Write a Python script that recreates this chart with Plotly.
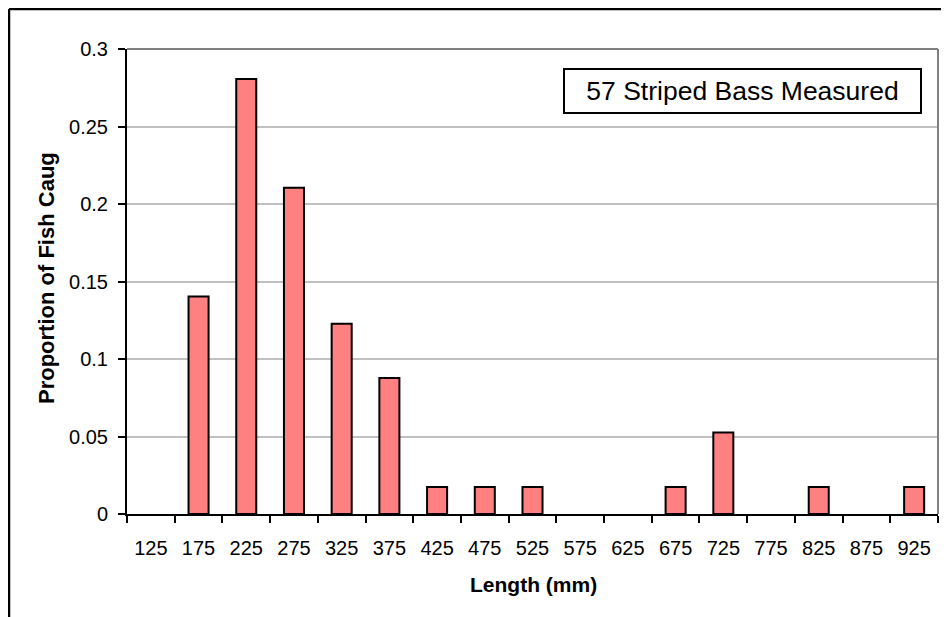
import plotly.graph_objects as go

categories = ["125", "175", "225", "275", "325", "375", "425", "475", "525",
              "575", "625", "675", "725", "775", "825", "875", "925"]
proportions = [0.0, 0.1404, 0.2807, 0.2105, 0.1228, 0.0877, 0.0175, 0.0175,
               0.0175, 0.0, 0.0, 0.0175, 0.0526, 0.0, 0.0175, 0.0, 0.0175]
y_ticks = [0, 0.05, 0.1, 0.15, 0.2, 0.25, 0.3]
y_tick_labels = ["0", "0.05", "0.1", "0.15", "0.2", "0.25", "0.3"]

OFF = 8  # page body margin
W, H = 949 - OFF, 617 - OFF
# plot area in page pixels
PL, PR, PT, PB = 127, 938, 49, 514
L, R, T, B = PL - OFF, PR - OFF, PT - OFF, PB - OFF

def px(x):
    return (x - PL) / (PR - PL)

def py(y):
    return (PB - y) / (PB - PT)

FONT = "Liberation Sans, Arial, sans-serif"

fig = go.Figure()
fig.add_trace(go.Bar(
    x=categories, y=proportions,
    marker=dict(color="#FF8080",
                line=dict(color="black", width=[2 if v > 0 else 0 for v in proportions])),
    hoverinfo="x+y",
))

fig.update_layout(
    width=W, height=H,
    margin=dict(l=L, r=W - R, t=T, b=H - B, pad=0),
    paper_bgcolor="white", plot_bgcolor="white",
    bargap=0.58,
    showlegend=False,
    font=dict(family=FONT, size=20, color="black"),
)

fig.update_xaxes(
    type="category",
    tickson="boundaries",
    ticks="outside", ticklen=7, tickwidth=2, tickcolor="black",
    showline=True, linecolor="black", linewidth=2,
    showgrid=False,
    tickfont=dict(size=20),
    ticklabelstandoff=15,
    range=[-0.5, 16.5],
)
fig.update_yaxes(
    range=[0, 0.3],
    tickvals=y_ticks, ticktext=y_tick_labels,
    ticks="outside", ticklen=7, tickwidth=2, tickcolor="black",
    showline=True, linecolor="black", linewidth=2,
    showgrid=True, gridcolor="#C0C0C0", gridwidth=2,
    tickfont=dict(size=20),
    ticklabelstandoff=6,
    zeroline=False,
)

# plot area top/right border (gray)
fig.add_shape(type="line", xref="paper", yref="paper", x0=0, x1=1, y0=1, y1=1,
              line=dict(color="#808080", width=2))
fig.add_shape(type="line", xref="paper", yref="paper", x0=1, x1=1, y0=0, y1=1,
              line=dict(color="#808080", width=2))

# outer chart border (left and top visible)
fig.add_shape(type="line", xref="paper", yref="paper",
              x0=px(9), x1=px(9), y0=py(9), y1=py(640),
              line=dict(color="black", width=2.5))
fig.add_shape(type="line", xref="paper", yref="paper",
              x0=px(9), x1=px(970), y0=py(9), y1=py(9),
              line=dict(color="black", width=2.5))

# axis titles
fig.add_annotation(text="<b>Length (mm)</b>", xref="paper", yref="paper",
                   x=px(533), y=py(584), xanchor="center", yanchor="middle",
                   showarrow=False, font=dict(size=21))
fig.add_annotation(text="<b>Proportion of Fish Caug</b>", xref="paper", yref="paper",
                   x=px(46), y=py(278), xanchor="center", yanchor="middle",
                   textangle=-90, showarrow=False, font=dict(size=22))

# text box
fig.add_annotation(text="57 Striped Bass Measured", xref="paper", yref="paper",
                   x=px(742.5), y=py(91), xanchor="center", yanchor="middle",
                   showarrow=False, font=dict(size=26.5),
                   bordercolor="black", borderwidth=2, borderpad=0,
                   bgcolor="white", width=355, height=42)

fig.write_html("out.html")
